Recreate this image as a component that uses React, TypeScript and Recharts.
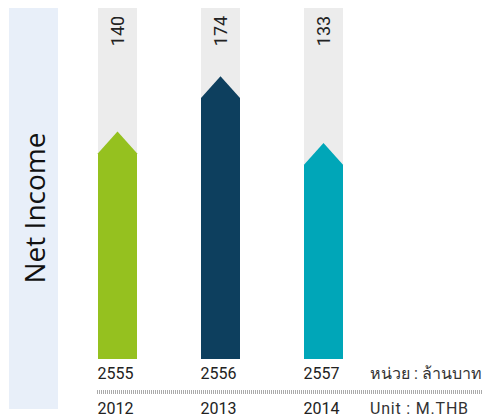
import { Bar, BarChart, LabelList, XAxis, YAxis } from 'recharts';

const thaiYears = ['2555', '2556', '2557'];
const years = ['2012', '2013', '2014'];
const netIncome = [140, 174, 133];
const barColors = ['#95c11f', '#0d3f5e', '#00a6b8'];

const data = thaiYears.map((thai, i) => ({ thai, year: years[i], value: netIncome[i] }));

const font = "Roboto, 'Noto Sans', sans-serif";

const ArrowBar = (props: any) => {
    const { x, y, width, height, index } = props;
    const bottom = y + height;
    const shoulder = y + width * 0.56;
    const d = `M${x},${bottom} L${x},${shoulder} L${x + width / 2},${y} L${x + width},${shoulder} L${x + width},${bottom} Z`;
    return <path d={d} fill={barColors[index % barColors.length]} />;
};

const ValueLabel = (props: any) => {
    const { x, width, value } = props;
    const cx = x + width / 2;
    const cy = 31;
    return (
        <text
            x={cx}
            y={cy}
            transform={`rotate(-90 ${cx} ${cy})`}
            textAnchor="middle"
            dominantBaseline="central"
            fontFamily={font}
            fontSize={18}
            fill="#222"
        >
            {value}
        </text>
    );
};

const YearTick = (props: any) => {
    const { x, y, payload, index } = props;
    const left = x - 20;
    return (
        <g>
            <text x={left} y={y + 12} fontFamily={font} fontSize={16} fill="#222">
                {payload.value}
            </text>
            <text x={left} y={y + 47} fontFamily={font} fontSize={16} fill="#222">
                {years[index]}
            </text>
        </g>
    );
};

export default function App() {
    return (
        <div style={{ position: 'absolute', left: 0, top: 0, width: 485, height: 418, background: '#fff' }}>
            <div
                style={{
                    position: 'absolute',
                    left: 9,
                    top: 8,
                    width: 49,
                    height: 401,
                    background: '#e8eff9',
                }}
            />
            <svg width={485} height={418} style={{ position: 'absolute', left: 0, top: 0 }}>
                <text
                    x={34}
                    y={208}
                    transform="rotate(-90 34 208)"
                    textAnchor="middle"
                    dominantBaseline="central"
                    fontFamily="'Open Sans', sans-serif"
                    fontSize={28}
                    fill="#111"
                >
                    Net Income
                </text>
                <line x1={97} x2={482} y1={392} y2={392} stroke="#aaa" strokeWidth={4} strokeDasharray="1 1" />
                <text x={370} y={379} fontFamily={font} fontSize={16} fill="#333">
                    หน่วย : ล้านบาท
                </text>
                <text x={370} y={414} fontFamily={font} fontSize={16} fill="#333" letterSpacing={0.8}>
                    Unit : M.THB
                </text>
            </svg>
            <div style={{ position: 'absolute', left: 0, top: 0 }}>
                <BarChart width={485} height={418} data={data} margin={{ top: 8, right: 110, left: 66, bottom: 0 }}>
                    <XAxis
                        dataKey="thai"
                        axisLine={false}
                        tickLine={false}
                        height={59}
                        interval={0}
                        tick={<YearTick />}
                    />
                    <YAxis hide domain={[0, 216]} />
                    <Bar
                        dataKey="value"
                        barSize={39}
                        shape={<ArrowBar />}
                        background={{ fill: '#ececec' }}
                        isAnimationActive={false}
                    >
                        <LabelList dataKey="value" content={<ValueLabel />} />
                    </Bar>
                </BarChart>
            </div>
        </div>
    );
}
